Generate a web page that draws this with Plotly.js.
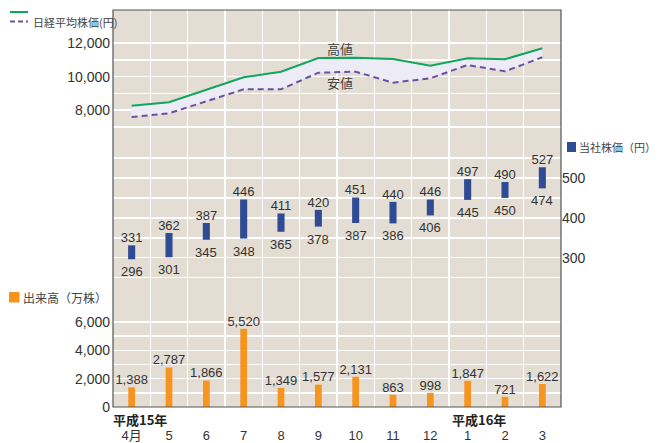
<!DOCTYPE html>
<html>
<head>
<meta charset="utf-8">
<script src="https://cdn.plot.ly/plotly-3.0.1.min.js"></script>
<style>html,body{margin:0;padding:0;background:#fff;}#chart{width:658px;height:443px;}</style>
</head>
<body>
<div id="chart"></div>
<script>
// ---- data ----
const months = ['4月','5','6','7','8','9','10','11','12','1','2','3'];
const nikkeiHigh = [8268, 8470, 9214, 9958, 10292, 11107, 11125, 11048, 10649, 11089, 11030, 11685];
const nikkeiLow  = [7595, 7815, 8530, 9244, 9244, 10232, 10292, 9637, 9899, 10690, 10315, 11149];
const stockHigh = [331, 362, 387, 446, 411, 420, 451, 440, 446, 497, 490, 527];
const stockLow  = [296, 301, 345, 348, 365, 378, 387, 386, 406, 445, 450, 474];
const volume = [1388, 2787, 1866, 5520, 1349, 1577, 2131, 863, 998, 1847, 721, 1622];
const nikkeiTicks = [7000, 8000, 9000, 10000, 11000, 12000];
const nikkeiTickText = ['', '8,000', '', '10,000', '', '12,000'];
const stockTicks = [250, 300, 350, 400, 450, 500, 550];
const stockTickText = ['', '300', '', '400', '', '500', ''];
const volTicks = [0, 1000, 2000, 3000, 4000, 5000, 6000];
const volTickText = ['0', '', '2,000', '', '4,000', '', '6,000'];

// ---- geometry helpers (style only) ----
const L = 113, R = 561, T = 10, B = 407, W = R - L, H = B - T;
const px = v => (v - L) / W;
const py = v => (B - v) / H;

const idx = months.map((_, i) => i);
const fmt = v => v.toLocaleString('en-US');

const C = {
  bg: '#e3ddd3', grid: '#ffffff', green: '#12a65a', purple: '#6b4fa3',
  fill: '#edecf6', blue: '#2f4b94', orange: '#f7941d', text: '#333333', frame: '#555555'
};
const NUMFONT = 'Liberation Sans, Arial, Noto Sans CJK JP, sans-serif';
const JPFONT = 'Noto Sans CJK JP, sans-serif';

const traces = [
  {type:'scatter', mode:'lines', x: idx, y: nikkeiLow, yaxis:'y',
   line:{color:C.purple, width:2, dash:'6px,4px'}, hoverinfo:'skip'},
  {type:'scatter', mode:'lines', x: idx, y: nikkeiHigh, yaxis:'y',
   fill:'tonexty', fillcolor:C.fill, line:{color:C.green, width:2}, hoverinfo:'skip'},
  {type:'bar', x: idx, y: stockHigh.map((h, i) => h - stockLow[i]), base: stockLow, yaxis:'y2',
   width:0.19, marker:{color:C.blue}, hoverinfo:'skip'},
  {type:'scatter', mode:'text', x: idx, y: stockHigh, yaxis:'y2', text: stockHigh.map(String),
   textposition:'top center', textfont:{family:NUMFONT, size:13, color:C.text}, cliponaxis:false},
  {type:'bar', x: idx, y: volume, yaxis:'y3', width:0.18, marker:{color:C.orange}, hoverinfo:'skip'},
  {type:'scatter', mode:'text', x: idx, y: volume, yaxis:'y3', text: volume.map(fmt),
   textposition:'top center', textfont:{family:NUMFONT, size:13, color:C.text}, cliponaxis:false}
];

const yCommon = {showline:false, zeroline:false, ticks:'', gridcolor:C.grid, gridwidth:1.5,
  tickmode:'array', tickfont:{family:NUMFONT, size:14, color:C.text}, fixedrange:true};

// low-price labels placed just below each bar, through the y2 axis
const lowLabels = stockLow.map((v, i) => ({
  xref:'x', yref:'y2', x:i, y:v, text:String(v), showarrow:false,
  xanchor:'center', yanchor:'top', yshift:-3,
  font:{family:NUMFONT, size:13, color:C.text}
}));

const layout = {
  width:658, height:443,
  margin:{l:L, r:658 - R, t:T, b:443 - B, pad:0},
  paper_bgcolor:'#ffffff', plot_bgcolor:C.bg,
  showlegend:false, barmode:'overlay',
  font:{family:NUMFONT, color:C.text},
  xaxis:{range:[-0.5, 11.5], anchor:'y3', tickmode:'array', tickvals: idx, ticktext: months,
    showgrid:false, zeroline:false, showline:false, ticks:'', ticklabelstandoff:19,
    tickfont:{family:NUMFONT, size:13, color:C.text},
    minor:{tickmode:'linear', tick0:0.5, dtick:1, showgrid:true, gridcolor:C.grid, gridwidth:1.5, ticks:''}},
  yaxis: Object.assign({}, yCommon, {domain:[py(142), 1], range:[6107, 13964], anchor:'x',
    tickvals: nikkeiTicks, ticktext: nikkeiTickText, ticklabelstandoff:2}),
  yaxis2: Object.assign({}, yCommon, {domain:[py(300), py(142)], range:[193.7, 590.4], anchor:'x', side:'right',
    tickvals: stockTicks, ticktext: stockTickText, ticklabelstandoff:0}),
  yaxis3: Object.assign({}, yCommon, {domain:[0, py(300)], range:[0, 7553], anchor:'x',
    tickvals: volTicks, ticktext: volTickText, ticklabelstandoff:2}),
  shapes:[
    {type:'rect', xref:'paper', yref:'paper', x0:0, x1:1, y0:0, y1:1, layer:'below',
     fillcolor:C.bg, line:{width:0}},
    {type:'rect', xref:'paper', yref:'paper', x0:0, x1:1, y0:0, y1:1, layer:'above',
     fillcolor:'rgba(0,0,0,0)', line:{color:C.frame, width:1.2}},
    // legend icons
    {type:'line', xref:'paper', yref:'paper', x0:px(10), x1:px(28), y0:py(12), y1:py(12),
     line:{color:C.green, width:2}},
    {type:'line', xref:'paper', yref:'paper', x0:px(10), x1:px(28), y0:py(21.5), y1:py(21.5),
     line:{color:C.purple, width:2, dash:'5px,3px'}},
    {type:'rect', xref:'paper', yref:'paper', x0:px(567), x1:px(576), y0:py(152), y1:py(142),
     fillcolor:C.blue, line:{width:0}},
    {type:'rect', xref:'paper', yref:'paper', x0:px(9), x1:px(19.5), y0:py(302.5), y1:py(292),
     fillcolor:C.orange, line:{width:0}}
  ],
  annotations: lowLabels.concat([
    {xref:'paper', yref:'paper', x:px(31), y:py(21.5), xanchor:'left', yanchor:'middle', showarrow:false,
     text:'日経平均株価(円)', font:{family:JPFONT, size:11, color:'#444'}},
    {xref:'paper', yref:'paper', x:px(577), y:py(147), xanchor:'left', yanchor:'middle', showarrow:false,
     text:'当社株価（円）', font:{family:JPFONT, size:11, color:'#444'}},
    {xref:'paper', yref:'paper', x:px(21), y:py(297), xanchor:'left', yanchor:'middle', showarrow:false,
     text:'出来高（万株）', font:{family:JPFONT, size:12, color:'#444'}},
    {xref:'x', yref:'y', x:5.58, y:11700, xanchor:'center', yanchor:'middle', showarrow:false, text:'高値',
     font:{family:JPFONT, size:13, color:'#444'}},
    {xref:'x', yref:'y', x:5.58, y:9620, xanchor:'center', yanchor:'middle', showarrow:false, text:'安値',
     font:{family:JPFONT, size:13, color:'#444'}},
    {xref:'paper', yref:'paper', x:px(140), y:py(420), xanchor:'center', yanchor:'middle', showarrow:false,
     text:'<b>平成15年</b>', font:{family:JPFONT, size:13, color:'#222'}},
    {xref:'paper', yref:'paper', x:px(479), y:py(420), xanchor:'center', yanchor:'middle', showarrow:false,
     text:'<b>平成16年</b>', font:{family:JPFONT, size:13, color:'#222'}}
  ])
};

Plotly.newPlot('chart', traces, layout, {staticPlot:true, displayModeBar:false});
</script>
</body>
</html>
